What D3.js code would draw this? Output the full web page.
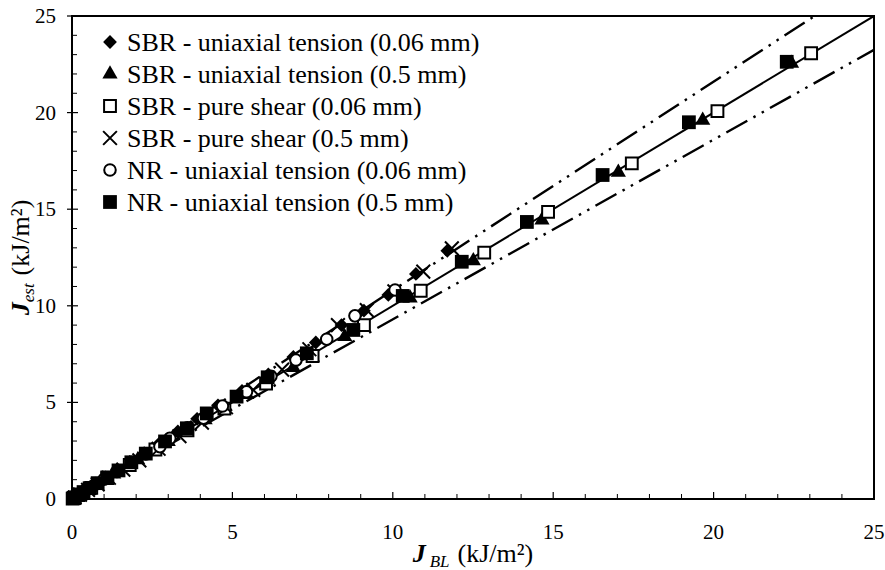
<!DOCTYPE html>
<html>
<head>
<meta charset="utf-8">
<script src="https://cdn.jsdelivr.net/npm/d3@7"></script>
<style>
  body { margin: 0; background: #fff; }
  svg { font-family: "Liberation Serif", "Times New Roman", serif; }
</style>
</head>
<body>
<svg class="chart" width="885" height="570"></svg>
<script>
// data: [J_BL, J_est] in kJ/m2
var sbrUt006 = [[0.05,0.05],[0.15,0.16],[0.3,0.32],[0.5,0.53],[0.75,0.8],[1.05,1.12],[1.4,1.5],[1.8,1.92],[2.25,2.38],[2.75,2.92],[3.3,3.5],[3.9,4.15],[4.55,4.85],[5.3,5.6],[6.12,6.45],[6.9,7.35],[7.6,8.1],[8.4,9.0],[9.1,9.75],[9.86,10.56],[10.72,11.65],[11.7,12.85]];
var sbrUt05 = [[0.07,0.07],[0.3,0.3],[0.72,0.71],[1.3,1.29],[2.05,2.03],[3.0,2.97],[4.15,4.1],[5.45,5.4],[6.9,6.8],[8.5,8.4],[10.54,10.4],[12.51,12.33],[14.65,14.44],[17.03,16.91],[19.66,19.6],[22.43,22.55]];
var sbrPs006 = [[0.05,0.05],[0.25,0.24],[0.6,0.58],[1.1,1.08],[1.8,1.76],[2.6,2.56],[3.6,3.55],[4.75,4.68],[6.05,5.98],[7.5,7.4],[9.1,9.0],[10.87,10.78],[12.85,12.75],[14.84,14.86],[17.45,17.37],[20.12,20.08],[23.04,23.07]];
var sbrPs05 = [[0.08,0.07],[0.25,0.23],[0.5,0.47],[0.8,0.76],[1.15,1.1],[1.6,1.52],[2.1,2.0],[2.7,2.6],[3.35,3.25],[4.05,3.95],[4.8,4.75],[5.65,5.65],[6.55,6.7],[7.4,7.75],[8.29,9.0],[9.19,9.78],[10.05,10.75],[10.95,11.77],[11.84,12.97]];
var nrUt006 = [[0.05,0.05],[0.15,0.15],[0.35,0.36],[0.65,0.66],[1.0,1.02],[1.4,1.43],[1.85,1.9],[2.3,2.33],[2.74,2.71],[3.05,3.14],[3.6,3.68],[4.1,4.18],[4.69,4.81],[5.44,5.55],[6.2,6.35],[6.98,7.19],[7.94,8.27],[8.82,9.48],[10.07,10.82]];
var nrUt05 = [[0.02,0.02],[0.09,0.09],[0.2,0.2],[0.36,0.36],[0.55,0.56],[0.8,0.82],[1.1,1.12],[1.45,1.48],[1.85,1.9],[2.3,2.35],[2.9,2.98],[3.58,3.66],[4.2,4.43],[5.13,5.3],[6.1,6.3],[7.32,7.54],[8.77,8.75],[10.31,10.51],[12.15,12.28],[14.18,14.34],[16.54,16.77],[19.23,19.5],[22.28,22.63]];

var seriesNames = ["SBR - uniaxial tension (0.06 mm)", "SBR - uniaxial tension (0.5 mm)", "SBR - pure shear (0.06 mm)",
                   "SBR - pure shear (0.5 mm)", "NR - uniaxial tension (0.06 mm)", "NR - uniaxial tension (0.5 mm)"];
var seriesData = [sbrUt006, sbrUt05, sbrPs006, sbrPs05, nrUt006, nrUt05];
var xTicks = [0, 5, 10, 15, 20, 25];
var yTicks = [0, 5, 10, 15, 20, 25];
var upperSlope = 1.08, lowerSlope = 0.93;

var svg = d3.select("svg.chart"),
    margin = {top: 16, right: 11, bottom: 71, left: 72};
var width = 885 - margin.left - margin.right,
    height = 570 - margin.top - margin.bottom;
var g = svg.append("g").attr("transform", "translate(" + margin.left + "," + margin.top + ")");

var x = d3.scaleLinear().domain([0, 25]).range([0, width]);
var y = d3.scaleLinear().domain([0, 25]).range([height, 0]);

g.append("clipPath").attr("id", "clip")
  .append("rect").attr("width", width).attr("height", height);

// minor ticks (inside)
var minor = d3.range(1, 25).filter(function(d) { return d % 5 != 0; });
g.selectAll(".xminor").data(minor).enter().append("line")
  .attr("x1", function(d) { return x(d); }).attr("x2", function(d) { return x(d); })
  .attr("y1", height).attr("y2", height - 5)
  .attr("stroke", "#000").attr("stroke-width", 1);
g.selectAll(".yminor").data(minor).enter().append("line")
  .attr("y1", function(d) { return y(d); }).attr("y2", function(d) { return y(d); })
  .attr("x1", 0).attr("x2", 5)
  .attr("stroke", "#000").attr("stroke-width", 1);
// major ticks
g.selectAll(".xmajor").data(xTicks).enter().append("line")
  .attr("x1", function(d) { return x(d); }).attr("x2", function(d) { return x(d); })
  .attr("y1", height).attr("y2", height - 7)
  .attr("stroke", "#000").attr("stroke-width", 1.2);
g.selectAll(".ymajor").data(yTicks).enter().append("line")
  .attr("y1", function(d) { return y(d); }).attr("y2", function(d) { return y(d); })
  .attr("x1", -5).attr("x2", 6)
  .attr("stroke", "#000").attr("stroke-width", 1.2);

// tick labels
g.selectAll(".xlab").data(xTicks).enter().append("text")
  .attr("x", function(d) { return x(d); }).attr("y", height + 40)
  .attr("text-anchor", "middle").attr("font-size", 21).text(function(d) { return d; });
g.selectAll(".ylab").data(yTicks).enter().append("text")
  .attr("x", -16).attr("y", function(d) { return y(d) + 7; })
  .attr("text-anchor", "end").attr("font-size", 21).text(function(d) { return d; });

// reference lines
var lineGen = d3.line()
  .x(function(d) { return x(d[0]); })
  .y(function(d) { return y(d[1]); });
var lines = g.append("g").attr("clip-path", "url(#clip)");
lines.append("path").datum([[0, 0], [25, 25 * upperSlope]])
  .attr("d", lineGen).attr("fill", "none").attr("stroke", "#000")
  .attr("stroke-width", 2.4).attr("stroke-dasharray", "24,7,2.5,7,2.5,7");
lines.append("path").datum([[0, 0], [25, 25 * lowerSlope]])
  .attr("d", lineGen).attr("fill", "none").attr("stroke", "#000")
  .attr("stroke-width", 2.4).attr("stroke-dasharray", "24,7,2.5,7,2.5,7");
lines.append("path").datum([[0, 0], [25, 25]])
  .attr("d", lineGen).attr("fill", "none").attr("stroke", "#000")
  .attr("stroke-width", 2);

// markers
var markers = [
  {type: d3.symbolSquare, size: 95, rot: 45, fill: "#000", stroke: "none"},
  {type: d3.symbolTriangle, size: 100, rot: 0, fill: "#000", stroke: "none"},
  {type: d3.symbolSquare, size: 140, rot: 0, fill: "#fff", stroke: "#000"},
  {type: d3.symbolX, size: 125, rot: 0, fill: "none", stroke: "#000"},
  {type: d3.symbolCircle, size: 105, rot: 0, fill: "#fff", stroke: "#000"},
  {type: d3.symbolSquare, size: 190, rot: 0, fill: "#000", stroke: "none"}
];

seriesData.forEach(function(data, i) {
  var m = markers[i];
  g.append("g").selectAll("path").data(data).enter().append("path")
    .attr("d", d3.symbol().type(m.type).size(m.size))
    .attr("transform", function(d) { return "translate(" + x(d[0]) + "," + y(d[1]) + ") rotate(" + m.rot + ")"; })
    .attr("fill", m.fill).attr("stroke", m.stroke).attr("stroke-width", 2);
});

// plot border
g.append("rect").attr("width", width).attr("height", height)
  .attr("fill", "none").attr("stroke", "#000").attr("stroke-width", 2);

// legend
var legend = g.append("g").attr("transform", "translate(38,26)");
seriesNames.forEach(function(name, i) {
  var m = markers[i];
  var row = legend.append("g").attr("transform", "translate(0," + (i * 32) + ")");
  row.append("path")
    .attr("d", d3.symbol().type(m.type).size(m.size))
    .attr("transform", "rotate(" + m.rot + ")")
    .attr("fill", m.fill).attr("stroke", m.stroke).attr("stroke-width", 2);
  row.append("text").attr("x", 17).attr("y", 9).attr("font-size", 26).text(name);
});

// axis titles
var xt = svg.append("text").attr("x", margin.left + width / 2).attr("y", 562)
  .attr("text-anchor", "middle").attr("font-size", 26);
xt.append("tspan").attr("font-weight", "bold").attr("font-style", "italic").text("J");
xt.append("tspan").attr("font-style", "italic").attr("font-size", 17).attr("dx", 4).attr("dy", 5).text("BL");
xt.append("tspan").attr("dy", -5).attr("dx", 8).text("(kJ/m²)");

var yt = svg.append("text").attr("transform", "translate(29," + (margin.top + height / 2) + ") rotate(-90)")
  .attr("text-anchor", "middle").attr("font-size", 26);
yt.append("tspan").attr("font-weight", "bold").attr("font-style", "italic").text("J");
yt.append("tspan").attr("font-style", "italic").attr("font-size", 17).attr("dy", 5).text("est");
yt.append("tspan").attr("dy", -5).attr("dx", 8).text("(kJ/m²)");
</script>
</body>
</html>
